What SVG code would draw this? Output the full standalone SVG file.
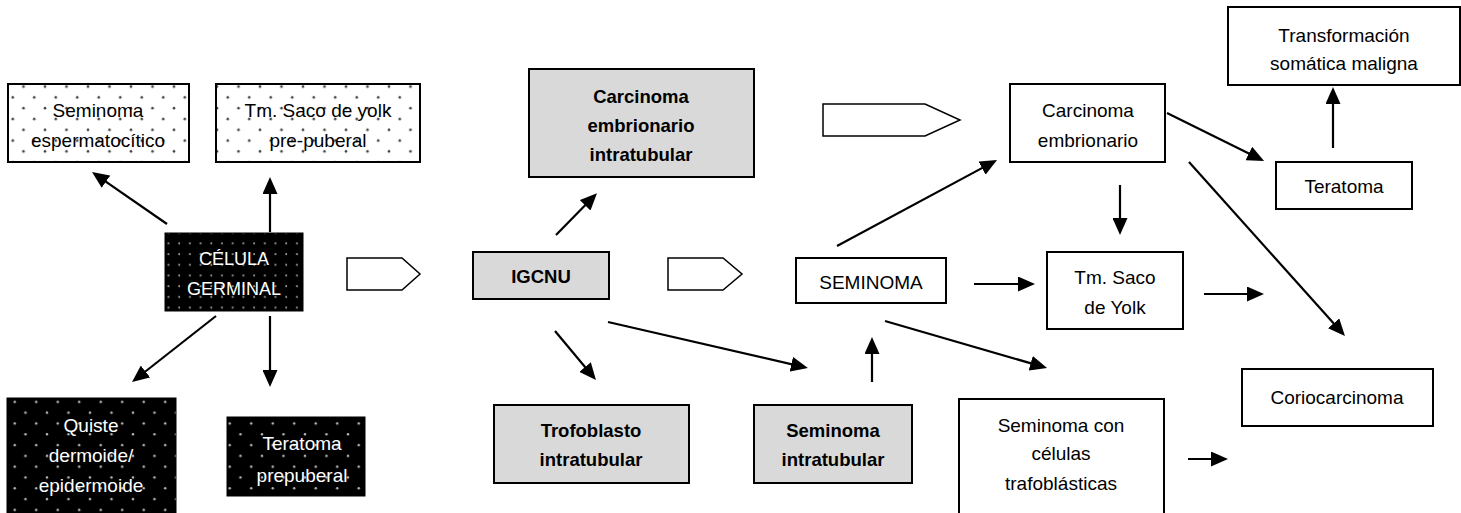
<svg xmlns="http://www.w3.org/2000/svg" width="1461" height="513" viewBox="0 0 1461 513">
<style>
text{font-family:"Liberation Sans",Arial,sans-serif;font-size:19px;fill:#000;text-anchor:middle}
text.b{font-weight:bold;font-size:18.5px}
text.w{fill:#fff;font-size:18px}
.box{fill:#fff;stroke:#000;stroke-width:2}
.gray{fill:#d9d9d9;stroke:#000;stroke-width:2}
.dotw{fill:url(#dotsW);stroke:#000;stroke-width:2}
.dotb{fill:url(#dotsB);stroke:#000;stroke-width:1}
.dotb2{fill:url(#dotsB2);stroke:#000;stroke-width:1}
.pent{fill:#fff;stroke:#000;stroke-width:1.5}
.con line{stroke:#000;stroke-width:2.2;marker-end:url(#ah)}
</style>
<defs>
<pattern id="dotsW" patternUnits="userSpaceOnUse" x="2" y="2" width="21.5" height="21.6">
<rect width="21.5" height="21.6" fill="#fff"/>
<circle cx="10.75" cy="9" r="1.3" fill="#444"/>
<circle cx="0" cy="19.8" r="1.3" fill="#444"/>
<circle cx="21.5" cy="19.8" r="1.3" fill="#444"/>
</pattern>
<pattern id="dotsB" patternUnits="userSpaceOnUse" x="4" y="4" width="21.5" height="21.6">
<rect width="21.5" height="21.6" fill="#000"/>
<circle cx="10.75" cy="9" r="1.2" fill="#bbb"/>
<circle cx="0" cy="19.8" r="1.2" fill="#bbb"/>
<circle cx="21.5" cy="19.8" r="1.2" fill="#bbb"/>
</pattern>
<pattern id="dotsB2" patternUnits="userSpaceOnUse" x="3" y="3" width="10.7" height="10.7">
<rect width="10.7" height="10.7" fill="#000"/>
<circle cx="5" cy="5" r="1" fill="#999"/>
</pattern>
<marker id="ah" markerUnits="userSpaceOnUse" markerWidth="17" markerHeight="15" refX="13" refY="7.5" orient="auto">
<path d="M0,0 L17,7.5 L0,15 z" fill="#000"/>
</marker>
</defs>

<g id="connectors" class="con">
<line x1="167" y1="224" x2="95.3" y2="174.3"/>
<line x1="270" y1="232" x2="270" y2="181"/>
<line x1="216" y1="316" x2="135.2" y2="379.5"/>
<line x1="270" y1="316" x2="270" y2="383"/>
<line x1="556" y1="235" x2="594.2" y2="196"/>
<line x1="555" y1="331" x2="593.4" y2="377"/>
<line x1="608" y1="322" x2="804" y2="367.1"/>
<line x1="872" y1="382" x2="872" y2="341"/>
<line x1="837" y1="246" x2="993.5" y2="161.9"/>
<line x1="974" y1="284" x2="1031" y2="284"/>
<line x1="885" y1="321" x2="1043.2" y2="366.9"/>
<line x1="1167" y1="113" x2="1260.5" y2="159.2"/>
<line x1="1333" y1="148" x2="1333" y2="91"/>
<line x1="1120" y1="185" x2="1120" y2="231"/>
<line x1="1189" y1="162" x2="1342.3" y2="333"/>
<line x1="1204" y1="294" x2="1260" y2="294"/>
<line x1="1188" y1="459" x2="1224" y2="459"/>
<polygon class="pent" points="347,258 402,258 420,274 402,290 347,290"/>
<polygon class="pent" points="668,258 723,258 742,274 723,290 668,290"/>
<polygon class="pent" points="823,104 925,104 960,120 925,136 823,136"/>
</g>

<g id="n-sem-esp">
<rect class="dotw" x="8" y="84" width="181" height="78"/>
<text x="98" y="116.5">Seminoma</text>
<text x="98" y="146.5">espermatocítico</text>
</g>
<g id="n-tm-pre">
<rect class="dotw" x="216" y="84" width="204" height="78"/>
<text x="318" y="116.5">Tm. Saco de yolk</text>
<text x="318" y="146.5">pre-puberal</text>
</g>
<g id="n-cg">
<rect class="dotb2" x="165" y="233" width="138" height="78"/>
<text class="w" x="234" y="264.5">CÉLULA</text>
<text class="w" x="234" y="294.5">GERMINAL</text>
</g>
<g id="n-quiste">
<rect class="dotb" x="7" y="398" width="169" height="120"/>
<text class="w" x="91" y="431.5" style="font-size:19px">Quiste</text>
<text class="w" x="91" y="461.5" style="font-size:19px">dermoide/</text>
<text class="w" x="91" y="491.5" style="font-size:19px">epidermoide</text>
</g>
<g id="n-terat-pre">
<rect class="dotb" x="227" y="417" width="138" height="79"/>
<text class="w" x="302" y="449.5" style="font-size:19px">Teratoma</text>
<text class="w" x="302" y="481.5" style="font-size:19px">prepuberal</text>
</g>
<g id="n-igcnu">
<rect class="gray" x="473" y="252" width="136" height="47"/>
<text class="b" x="541" y="283">IGCNU</text>
</g>
<g id="n-carc-intra">
<rect class="gray" x="529" y="69" width="225" height="108"/>
<text class="b" x="641" y="102.5">Carcinoma</text>
<text class="b" x="641" y="131.5">embrionario</text>
<text class="b" x="641" y="160.5">intratubular</text>
</g>
<g id="n-trofo">
<rect class="gray" x="494" y="405" width="195" height="78"/>
<text class="b" x="591" y="436.5">Trofoblasto</text>
<text class="b" x="591" y="465.5">intratubular</text>
</g>
<g id="n-sem-intra">
<rect class="gray" x="754" y="405" width="158" height="78"/>
<text class="b" x="833" y="436.5">Seminoma</text>
<text class="b" x="833" y="465.5">intratubular</text>
</g>
<g id="n-seminoma">
<rect class="box" x="796" y="258" width="150" height="45"/>
<text x="871" y="289">SEMINOMA</text>
</g>
<g id="n-carc-emb">
<rect class="box" x="1010" y="84" width="155" height="78"/>
<text x="1088" y="116.5">Carcinoma</text>
<text x="1088" y="146.5">embrionario</text>
</g>
<g id="n-transf">
<rect class="box" x="1228" y="7" width="232" height="78"/>
<text x="1344" y="41.5">Transformación</text>
<text x="1344" y="69.5">somática maligna</text>
</g>
<g id="n-teratoma">
<rect class="box" x="1276" y="162" width="136" height="47"/>
<text x="1344" y="192.5">Teratoma</text>
</g>
<g id="n-tmsaco">
<rect class="box" x="1047" y="252" width="136" height="77"/>
<text x="1115" y="283.5">Tm. Saco</text>
<text x="1115" y="313.5">de Yolk</text>
</g>
<g id="n-corio">
<rect class="box" x="1242" y="369" width="191" height="57"/>
<text x="1337" y="403.5">Coriocarcinoma</text>
</g>
<g id="n-semcon">
<rect class="box" x="959" y="399" width="205" height="120"/>
<text x="1061" y="431.5">Seminoma con</text>
<text x="1061" y="459.5">células</text>
<text x="1061" y="489.5">trafoblásticas</text>
</g>
</svg>
